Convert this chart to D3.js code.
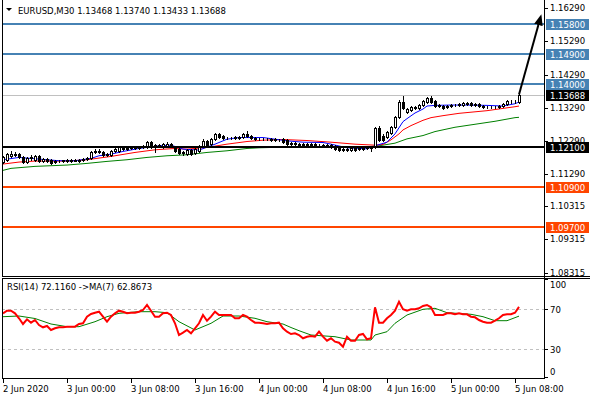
<!DOCTYPE html>
<html>
<head>
<meta charset="utf-8">
<script src="https://cdn.jsdelivr.net/npm/d3@7"></script>
<style>
   body { margin: 0; background: #ffffff; }
   svg { display: block; font-family: "DejaVu Sans", sans-serif; font-size: 8.5px; }
</style>
</head>
<body>
<div id="chart"></div>
<script>
// EURUSD M30, 2 Jun 16:00 -> 5 Jun 08:30, one value per bar
var barOpen = [
   1.1165, 1.1171, 1.1183, 1.1189, 1.1189, 1.1180, 1.1165, 1.1177, 1.1171, 1.1183,
   1.1168, 1.1174, 1.1171, 1.1165, 1.1168, 1.1168, 1.1171, 1.1168, 1.1171, 1.1168,
   1.1171, 1.1174, 1.1177, 1.1195, 1.1198, 1.1195, 1.1186, 1.1186, 1.1198, 1.1198,
   1.1207, 1.1204, 1.1207, 1.1210, 1.1207, 1.1210, 1.1210, 1.1225, 1.1216, 1.1213,
   1.1210, 1.1213, 1.1219, 1.1210, 1.1204, 1.1195, 1.1189, 1.1201, 1.1192, 1.1198,
   1.1213, 1.1228, 1.1219, 1.1234, 1.1249, 1.1243, 1.1237, 1.1237, 1.1237, 1.1240,
   1.1240, 1.1249, 1.1243, 1.1237, 1.1234, 1.1234, 1.1235, 1.1231, 1.1234, 1.1231,
   1.1234, 1.1231, 1.1222, 1.1219, 1.1219, 1.1216, 1.1219, 1.1216, 1.1219, 1.1216,
   1.1217, 1.1213, 1.1216, 1.1213, 1.1207, 1.1204, 1.1201, 1.1201, 1.1207, 1.1204,
   1.1207, 1.1207, 1.1210, 1.1210, 1.1268, 1.1243, 1.1240, 1.1252, 1.1271, 1.1301,
   1.1346, 1.1316, 1.1322, 1.1328, 1.1328, 1.1337, 1.1346, 1.1358, 1.1349, 1.1337,
   1.1334, 1.1331, 1.1334, 1.1337, 1.1336, 1.1337, 1.1340, 1.1343, 1.1337, 1.1340,
   1.1334, 1.1331, 1.1330, 1.1331, 1.1330, 1.1334, 1.1340, 1.1346, 1.1347, 1.13468
];
var barHigh = [
   1.1183, 1.1192, 1.1198, 1.1195, 1.1192, 1.1183, 1.1180, 1.1186, 1.1186, 1.1186,
   1.1177, 1.1177, 1.1174, 1.1171, 1.1171, 1.1171, 1.1174, 1.1174, 1.1174, 1.1174,
   1.1177, 1.1180, 1.1198, 1.1204, 1.1204, 1.1198, 1.1192, 1.1201, 1.1207, 1.1213,
   1.1213, 1.1210, 1.1210, 1.1213, 1.1213, 1.1216, 1.1228, 1.1228, 1.1219, 1.1219,
   1.1222, 1.1225, 1.1222, 1.1213, 1.1207, 1.1198, 1.1204, 1.1204, 1.1207, 1.1216,
   1.1234, 1.1231, 1.1237, 1.1252, 1.1252, 1.1246, 1.1240, 1.1240, 1.1243, 1.1243,
   1.1252, 1.1259, 1.1246, 1.1240, 1.1237, 1.1237, 1.1237, 1.1237, 1.1237, 1.1234,
   1.1237, 1.1234, 1.1225, 1.1225, 1.1222, 1.1222, 1.1222, 1.1222, 1.1222, 1.1219,
   1.1219, 1.1219, 1.1219, 1.1216, 1.1210, 1.1207, 1.1207, 1.1210, 1.1210, 1.1210,
   1.1210, 1.1213, 1.1213, 1.1271, 1.1274, 1.1249, 1.1259, 1.1274, 1.1304, 1.1352,
   1.1365, 1.1328, 1.1334, 1.1334, 1.1340, 1.1352, 1.1362, 1.1365, 1.1352, 1.1340,
   1.1337, 1.1337, 1.1340, 1.1340, 1.1343, 1.1346, 1.1346, 1.1346, 1.1343, 1.1343,
   1.1337, 1.1334, 1.1334, 1.1334, 1.1337, 1.1343, 1.1352, 1.1352, 1.1352, 1.13740
];
var barLow = [
   1.1162, 1.1168, 1.1180, 1.1183, 1.1177, 1.1162, 1.1162, 1.1171, 1.1168, 1.1165,
   1.1165, 1.1165, 1.1158, 1.1162, 1.1165, 1.1165, 1.1165, 1.1165, 1.1168, 1.1165,
   1.1168, 1.1171, 1.1174, 1.1192, 1.1192, 1.1183, 1.1183, 1.1183, 1.1195, 1.1195,
   1.1201, 1.1201, 1.1204, 1.1204, 1.1204, 1.1207, 1.1207, 1.1207, 1.1195, 1.1210,
   1.1207, 1.1210, 1.1210, 1.1195, 1.1189, 1.1186, 1.1186, 1.1186, 1.1189, 1.1195,
   1.1210, 1.1213, 1.1216, 1.1231, 1.1237, 1.1234, 1.1234, 1.1234, 1.1234, 1.1234,
   1.1237, 1.1240, 1.1234, 1.1231, 1.1231, 1.1231, 1.1231, 1.1228, 1.1228, 1.1228,
   1.1222, 1.1216, 1.1216, 1.1216, 1.1213, 1.1213, 1.1213, 1.1213, 1.1213, 1.1213,
   1.1210, 1.1210, 1.1207, 1.1201, 1.1198, 1.1198, 1.1198, 1.1198, 1.1198, 1.1201,
   1.1201, 1.1204, 1.1198, 1.1207, 1.1228, 1.1228, 1.1237, 1.1249, 1.1268, 1.1298,
   1.1325, 1.1313, 1.1319, 1.1325, 1.1325, 1.1334, 1.1343, 1.1343, 1.1331, 1.1331,
   1.1325, 1.1328, 1.1331, 1.1334, 1.1334, 1.1334, 1.1337, 1.1334, 1.1334, 1.1331,
   1.1328, 1.1328, 1.1328, 1.1328, 1.1328, 1.1331, 1.1337, 1.1343, 1.1343, 1.13433
];
var barClose = [
   1.1180, 1.1189, 1.1189, 1.1186, 1.1180, 1.1165, 1.1177, 1.1180, 1.1183, 1.1168,
   1.1174, 1.1168, 1.1162, 1.1168, 1.1168, 1.1171, 1.1168, 1.1171, 1.1168, 1.1171,
   1.1174, 1.1177, 1.1195, 1.1198, 1.1195, 1.1186, 1.1189, 1.1198, 1.1204, 1.1210,
   1.1204, 1.1207, 1.1210, 1.1207, 1.1210, 1.1213, 1.1225, 1.1210, 1.1210, 1.1216,
   1.1219, 1.1219, 1.1213, 1.1198, 1.1192, 1.1192, 1.1201, 1.1189, 1.1204, 1.1213,
   1.1228, 1.1216, 1.1234, 1.1249, 1.1240, 1.1237, 1.1238, 1.1237, 1.1240, 1.1237,
   1.1249, 1.1243, 1.1237, 1.1234, 1.1234, 1.1235, 1.1234, 1.1234, 1.1231, 1.1232,
   1.1225, 1.1219, 1.1219, 1.1222, 1.1216, 1.1219, 1.1216, 1.1219, 1.1216, 1.1217,
   1.1213, 1.1216, 1.1210, 1.1204, 1.1201, 1.1201, 1.1204, 1.1207, 1.1201, 1.1207,
   1.1204, 1.1210, 1.1207, 1.1268, 1.1231, 1.1231, 1.1256, 1.1271, 1.1301, 1.1346,
   1.1328, 1.1325, 1.1331, 1.1331, 1.1337, 1.1349, 1.1358, 1.1346, 1.1334, 1.1334,
   1.1328, 1.1334, 1.1337, 1.1336, 1.1340, 1.1343, 1.1343, 1.1337, 1.1340, 1.1334,
   1.1331, 1.1330, 1.1331, 1.1330, 1.1334, 1.1340, 1.1349, 1.1347, 1.1346, 1.13688
];

// moving averages as [bar, price]
var maFast = [[0,1.1172],[4,1.1179],[9,1.1174],[14,1.1169],[18,1.1169],[22,1.1176],[24,1.1184],[27,1.1189],
   [30,1.1197],[34,1.1206],[39,1.1214],[42,1.1216],[45,1.1204],[49,1.1201],[53,1.1219],[56,1.1234],[59,1.1239],
   [62,1.1239],[65,1.1239],[68,1.1234],[71,1.1229],[75,1.1225],[80,1.1224],[82,1.1219],[86,1.1208],[91,1.1205],
   [93,1.1214],[96,1.1225],[98,1.1250],[100,1.1287],[101,1.1296],[103,1.1313],[105,1.1325],[106,1.1334],
   [108,1.1336],[112,1.1337],[116,1.1337],[121,1.1336],[125,1.1334],[128,1.1341],[129,1.1346]];
var maMid = [[0,1.1159],[4,1.1165],[8,1.1168],[16,1.1168],[21,1.1172],[27,1.1182],[33,1.1194],[38,1.1202],
   [43,1.1206],[46,1.1204],[51,1.1209],[56,1.1219],[61,1.1227],[65,1.1231],[70,1.1233],[76,1.1230],[82,1.1225],
   [88,1.1219],[93,1.1216],[95,1.1218],[97,1.1232],[99,1.1250],[100,1.1262],[102,1.1275],[105,1.1291],
   [107,1.1299],[110,1.1305],[114,1.1312],[121,1.1320],[128,1.1332],[129,1.1334]];
var maSlow = [[0,1.1140],[2,1.1146],[8,1.1152],[16,1.1156],[21,1.1161],[26,1.1167],[31,1.1172],[36,1.1179],
   [41,1.1184],[46,1.1187],[51,1.1194],[56,1.1199],[61,1.1206],[64,1.1208],[70,1.1210],[80,1.1211],[92,1.1212],
   [94,1.1214],[98,1.1222],[101,1.1235],[105,1.1245],[108,1.1257],[113,1.1270],[118,1.1279],[123,1.1288],
   [128,1.1299],[129,1.1300]];

// RSI(14), one value per bar, and its MA(7) as [bar, value]
var rsiValues = [
   65.7, 68.3, 68.3, 65.7, 60.7, 55.0, 59.7, 56.3, 59.0, 54.0,
   51.7, 53.0, 49.0, 50.7, 51.7, 51.7, 52.3, 52.3, 52.3, 55.0,
   55.7, 62.3, 65.0, 66.3, 67.3, 62.3, 57.3, 62.3, 65.7, 68.3,
   67.3, 65.7, 66.3, 66.3, 67.3, 69.0, 74.0, 68.3, 62.3, 62.3,
   65.7, 66.3, 64.0, 55.7, 44.0, 46.3, 49.0, 45.7, 50.7, 55.7,
   64.0, 58.3, 62.3, 67.3, 64.0, 64.0, 64.0, 64.0, 60.7, 60.7,
   64.0, 62.3, 59.0, 56.3, 56.3, 55.7, 55.0, 55.7, 55.7, 56.3,
   50.7, 47.3, 45.0, 45.7, 44.0, 40.7, 42.3, 43.0, 42.3, 47.3,
   42.3, 38.3, 40.7, 37.3, 36.3, 32.3, 42.3, 38.3, 38.3, 44.0,
   45.0, 39.7, 40.7, 71.7, 56.3, 56.3, 60.7, 64.0, 68.3, 77.3,
   69.7, 68.3, 69.7, 69.7, 70.7, 73.0, 74.0, 71.7, 64.0, 64.0,
   64.0, 65.7, 65.7, 64.7, 65.7, 64.7, 64.7, 62.3, 61.7, 59.0,
   57.3, 56.3, 56.3, 58.3, 60.7, 64.0, 64.7, 64.7, 66.3, 72.116
];
var rsiMa = [[0,62.3],[4,63.0],[8,60.5],[12,55.0],[16,52.3],[19,52.3],[23,57.3],[26,62.3],[29,65.7],[34,67.3],
   [38,67.3],[41,66.3],[44,57.3],[48,49.0],[52,55.7],[55,63.0],[59,63.0],[63,60.7],[66,57.3],[70,55.0],[72,51.5],
   [74,48.3],[77,44.0],[83,42.3],[87,39.0],[92,39.0],[93,44.0],[96,47.3],[98,55.7],[101,64.0],[105,69.7],
   [108,70.7],[111,66.3],[117,64.7],[120,62.3],[123,58.3],[126,58.3],[129,62.867]];

var priceTicks = [1.16290, 1.15290, 1.14290, 1.13290, 1.12290, 1.11290, 1.10315, 1.09315, 1.08315];
var rsiTicks = [100, 70, 30, 0];
var rsiLevels = [70, 30];
var timeTickBars = [0, 16, 32, 48, 64, 80, 96, 112, 128];
var timeLabels = ["2 Jun 2020", "3 Jun 00:00", "3 Jun 08:00", "3 Jun 16:00", "4 Jun 00:00",
   "4 Jun 08:00", "4 Jun 16:00", "5 Jun 00:00", "5 Jun 08:00"];
var resistanceLevels = [1.158, 1.149, 1.140];
var pivotLevels = [1.121];
var supportLevels = [1.109, 1.097];
var targetArrow = [[129, 1.13688], [134, 1.1585]];

function drawChart() {

   var width = 590, height = 400;
   var left = 2, right = 544;
   var mainTop = 0, mainBottom = 276, rsiTop = 278, rsiBottom = 378;

   var svg = d3.select("#chart")
      .append("svg")
      .attr("width", width)
      .attr("height", height);

   svg.append("rect")
      .attr("width", width)
      .attr("height", height)
      .attr("fill", "#ffffff");

   var x = d3.scaleLinear().domain([-0.25, 135.25]).range([left, right]);
   var y = d3.scaleLinear().domain([1.08213, 1.16539]).range([mainBottom, mainTop]);
   var yRsi = d3.scaleLinear().domain([0, 100]).range([rsiBottom + 1, rsiTop + 1]);

   function px(v) { return Math.round(v) + 0.5; }

   var bars = barClose.map(function(c, i) {
      return {i: i, o: barOpen[i], h: barHigh[i], l: barLow[i], c: c};
   });
   var lastClose = barClose[barClose.length - 1];

   // current price line
   svg.append("line")
      .attr("x1", left).attr("x2", right)
      .attr("y1", px(y(lastClose))).attr("y2", px(y(lastClose)))
      .attr("stroke", "#c0c0c0");

   // moving averages
   var maLine = d3.line()
      .x(function(d) {return x(d[0])})
      .y(function(d) {return y(d[1])});

   [[maSlow, "#008000"], [maMid, "#ff0000"], [maFast, "#0000ff"]].forEach(function(m) {
      svg.append("path")
         .datum(m[0])
         .attr("d", maLine)
         .attr("fill", "none")
         .attr("stroke", m[1])
         .attr("stroke-width", 1);
   });

   // candles
   var candle = svg.selectAll(".candle")
      .data(bars)
      .enter().append("g")
      .attr("class", "candle")
      .attr("shape-rendering", "crispEdges");

   candle.append("line")
      .attr("x1", function(d) {return px(x(d.i))})
      .attr("x2", function(d) {return px(x(d.i))})
      .attr("y1", function(d) {return Math.round(y(d.h))})
      .attr("y2", function(d) {return Math.round(y(d.l)) + 1})
      .attr("stroke", "#000000");

   candle.append("rect")
      .attr("x", function(d) {return Math.round(x(d.i)) - 0.5})
      .attr("y", function(d) {return px(y(Math.max(d.o, d.c)))})
      .attr("width", 2)
      .attr("height", function(d) {
         return Math.max(0, Math.round(y(Math.min(d.o, d.c))) - Math.round(y(Math.max(d.o, d.c))));
      })
      .attr("fill", function(d) {return d.c >= d.o ? "#ffffff" : "#000000"})
      .attr("stroke", "#000000");

   // horizontal levels
   var levels = resistanceLevels.map(function(v) {return {v: v, color: "#4682b4", text: "#ffffff"}})
      .concat(pivotLevels.map(function(v) {return {v: v, color: "#000000", text: "#ffffff"}}))
      .concat(supportLevels.map(function(v) {return {v: v, color: "#ff4500", text: "#ffffff"}}));

   svg.selectAll(".level")
      .data(levels)
      .enter().append("line")
      .attr("class", "level")
      .attr("x1", left).attr("x2", right)
      .attr("y1", function(d) {return Math.round(y(d.v))})
      .attr("y2", function(d) {return Math.round(y(d.v))})
      .attr("stroke", function(d) {return d.color})
      .attr("stroke-width", 2);

   // target arrow
   svg.append("defs").append("marker")
      .attr("id", "arrowHead")
      .attr("viewBox", "0 0 10 10")
      .attr("refX", 2).attr("refY", 5)
      .attr("markerWidth", 11).attr("markerHeight", 11)
      .attr("markerUnits", "userSpaceOnUse")
      .attr("orient", "auto")
      .append("path")
      .attr("d", "M0,1 L10,5 L0,9 Z")
      .attr("fill", "#000000");

   svg.append("path")
      .datum(targetArrow)
      .attr("d", maLine)
      .attr("stroke", "#000000")
      .attr("stroke-width", 2)
      .attr("fill", "none")
      .attr("marker-end", "url(#arrowHead)");

   // title
   svg.append("path")
      .attr("d", "M6,8 L12,8 L9,11 Z")
      .attr("fill", "#000000");
   svg.append("text")
      .attr("x", 18).attr("y", 14)
      .attr("fill", "#000000")
      .text("EURUSD,M30  1.13468 1.13740 1.13433 1.13688");

   // RSI window
   svg.selectAll(".rsi-level")
      .data(rsiLevels)
      .enter().append("line")
      .attr("class", "rsi-level")
      .attr("x1", left).attr("x2", right)
      .attr("y1", function(d) {return px(yRsi(d))})
      .attr("y2", function(d) {return px(yRsi(d))})
      .attr("stroke", "#c0c0c0")
      .attr("stroke-dasharray", "3,3");

   svg.append("path")
      .datum(rsiMa)
      .attr("d", d3.line().x(function(d) {return x(d[0])}).y(function(d) {return yRsi(d[1])}))
      .attr("fill", "none")
      .attr("stroke", "#008000")
      .attr("stroke-width", 1);

   svg.append("path")
      .datum(rsiValues)
      .attr("d", d3.line().x(function(d, i) {return x(i)}).y(function(d) {return yRsi(d)}))
      .attr("fill", "none")
      .attr("stroke", "#ff0000")
      .attr("stroke-width", 2);

   svg.append("text")
      .attr("x", 7).attr("y", 290)
      .attr("fill", "#000000")
      .text("RSI(14) 72.1160  ->MA(7) 62.8673");

   // frames
   var frame = svg.append("g")
      .attr("stroke", "#000000")
      .attr("shape-rendering", "crispEdges");
   frame.append("line").attr("x1", left + 0.5).attr("x2", left + 0.5).attr("y1", mainTop).attr("y2", mainBottom);
   frame.append("line").attr("x1", left + 0.5).attr("x2", left + 0.5).attr("y1", rsiTop).attr("y2", rsiBottom);
   frame.append("line").attr("x1", right + 0.5).attr("x2", right + 0.5).attr("y1", mainTop).attr("y2", rsiBottom + 1);
   frame.append("line").attr("x1", left).attr("x2", width).attr("y1", mainBottom + 0.5).attr("y2", mainBottom + 0.5);
   frame.append("line").attr("x1", left).attr("x2", width).attr("y1", rsiTop + 0.5).attr("y2", rsiTop + 0.5);
   frame.append("line").attr("x1", left).attr("x2", right).attr("y1", rsiBottom + 0.5).attr("y2", rsiBottom + 0.5);

   // price scale
   var priceAxis = svg.selectAll(".price-tick")
      .data(priceTicks)
      .enter().append("g")
      .attr("class", "price-tick");
   priceAxis.append("line")
      .attr("x1", right).attr("x2", right + 4)
      .attr("y1", function(d) {return px(y(d))})
      .attr("y2", function(d) {return px(y(d))})
      .attr("stroke", "#000000");
   priceAxis.append("text")
      .attr("x", right + 6)
      .attr("y", function(d) {return Math.round(y(d)) + 3})
      .attr("fill", "#000000")
      .text(function(d) {return d.toFixed(5)});

   var boxes = levels.concat([{v: lastClose, color: "#000000", text: "#ffffff"}]);
   var box = svg.selectAll(".price-box")
      .data(boxes)
      .enter().append("g")
      .attr("class", "price-box");
   box.append("rect")
      .attr("x", right + 2)
      .attr("y", function(d) {return Math.round(y(d.v)) - 5})
      .attr("width", 43)
      .attr("height", 11)
      .attr("fill", function(d) {return d.color});
   box.append("text")
      .attr("x", right + 6)
      .attr("y", function(d) {return Math.round(y(d.v)) + 4})
      .attr("fill", function(d) {return d.text})
      .text(function(d) {return d.v.toFixed(5)});

   // RSI scale
   var rsiAxis = svg.selectAll(".rsi-tick")
      .data(rsiTicks)
      .enter().append("g")
      .attr("class", "rsi-tick");
   rsiAxis.append("line")
      .attr("x1", right).attr("x2", right + 4)
      .attr("y1", function(d) {return px(Math.min(Math.max(yRsi(d), rsiTop + 1), rsiBottom - 1))})
      .attr("y2", function(d) {return px(Math.min(Math.max(yRsi(d), rsiTop + 1), rsiBottom - 1))})
      .attr("stroke", "#000000");
   rsiAxis.append("text")
      .attr("x", right + 6)
      .attr("y", function(d) {return Math.min(Math.max(yRsi(d), rsiTop + 6), rsiBottom - 7) + 4})
      .attr("fill", "#000000")
      .text(function(d) {return d});

   // time scale
   var timeAxis = svg.selectAll(".time-tick")
      .data(timeTickBars)
      .enter().append("g")
      .attr("class", "time-tick");
   timeAxis.append("line")
      .attr("x1", function(d) {return px(x(d))})
      .attr("x2", function(d) {return px(x(d))})
      .attr("y1", rsiBottom + 1).attr("y2", rsiBottom + 5)
      .attr("stroke", "#000000");
   timeAxis.append("text")
      .attr("x", function(d) {return Math.round(x(d))})
      .attr("y", 392)
      .attr("fill", "#000000")
      .text(function(d, i) {return timeLabels[i]});
}

drawChart();
</script>
</body>
</html>
